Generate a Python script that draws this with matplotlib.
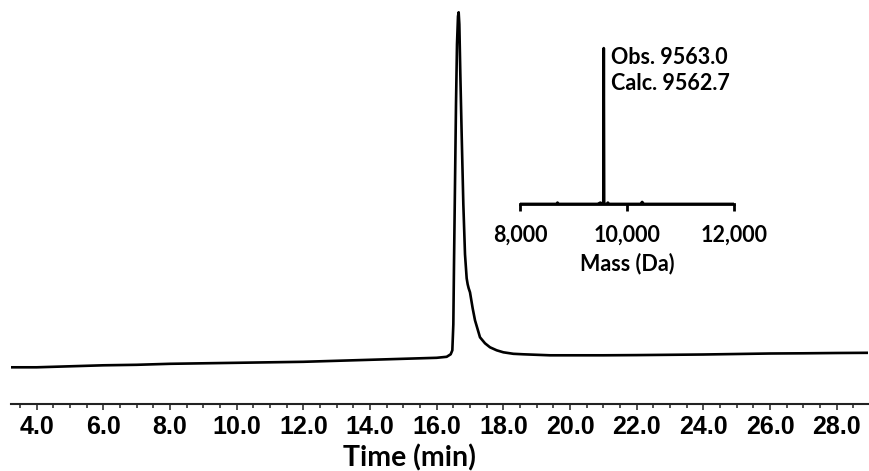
"""HPLC trace with deconvoluted mass spectrum inset.

Output:
  out.png
"""
import matplotlib
matplotlib.use("Agg")
import matplotlib.pyplot as plt
from matplotlib.ticker import MultipleLocator, FormatStrFormatter

# chromatogram: retention time (min) vs absorbance (arb.)
time_min = [3.2, 4.0, 5.0, 6.0, 7.0, 8.0, 9.0, 10.0, 11.0, 12.0, 13.0, 14.0,
            15.0, 16.0, 16.3, 16.42, 16.47, 16.50, 16.52, 16.55, 16.58, 16.61,
            16.64, 16.66, 16.68, 16.71, 16.75, 16.80, 16.85, 16.90, 16.93,
            16.96, 17.00, 17.08, 17.15, 17.30, 17.45, 17.60, 17.80, 18.00,
            18.30, 18.60, 19.40, 20.0, 21.0, 22.0, 23.0, 24.0, 25.0, 26.0,
            27.0, 28.0, 29.0]
absorbance = [37, 37, 38, 39, 39.5, 40.5, 41, 41.5, 42, 42.5, 43.5, 44.5,
              45.5, 46.5, 47.5, 50, 54, 80, 140, 220, 300, 360,
              388, 392, 380, 330, 270, 200, 150, 126, 120,
              116, 112, 96, 84, 67, 61, 57, 54, 52,
              50.5, 50, 49, 49, 49, 49.2, 49.5, 49.8, 50.3, 50.8,
              51, 51.3, 51.5]

# deconvoluted mass spectrum (inset)
mass_da = [8000, 8680, 8700, 8720, 9450, 9500, 9540, 9556, 9563, 9570,
           9620, 9640, 9660, 10250, 10280, 10310, 12000]
rel_int = [0, 0, 0.8, 0, 0, 0.8, 0, 0, 95, 0,
           0, 0.8, 0, 0, 1.2, 0, 0]
mass_ticks = [8000, 10000, 12000]
obs_mass = 9563.0
calc_mass = 9562.7

# tick labels of the main axis are Arial-like bold
plt.rcParams["font.family"] = ["Liberation Sans", "DejaVu Sans"]
plt.rcParams["font.weight"] = "bold"
plt.rcParams["font.size"] = 18

W, H = 870, 471
fig = plt.figure(figsize=(W / 100, H / 100), dpi=100)

# main chromatogram axes, only the bottom spine is shown
ax = fig.add_axes([11 / W, (H - 404.3) / H, 857 / W, 404.3 / H])
ax.plot(time_min, absorbance, color="black", lw=1.9, solid_joinstyle="round")
ax.set_xlim(3.23, 28.94)
ax.set_ylim(0, 404.3)
for side in ("top", "left", "right"):
    ax.spines[side].set_visible(False)
ax.spines["bottom"].set_linewidth(1.5)
ax.spines["bottom"].set_color("#222222")
ax.set_yticks([])
ax.xaxis.set_major_locator(MultipleLocator(2))
ax.xaxis.set_minor_locator(MultipleLocator(0.5))
ax.xaxis.set_major_formatter(FormatStrFormatter("%.1f"))
ax.tick_params(axis="x", which="major", length=4.5, width=1.1, pad=3.5,
               color="#222222", labelsize=18)
ax.tick_params(axis="x", which="minor", length=3, width=1.1, color="#222222")
ax.set_xlabel("Time (min)", fontfamily="Lato", fontweight="bold",
              fontsize=20.5, va="center")
ax.xaxis.set_label_coords((409 - 11) / 857, -(458 - 404.3) / 404.3)

# inset: mass spectrum
ins = fig.add_axes([520 / W, (H - 204) / H, 214.3 / W, 164 / H])
ins.plot(mass_da, rel_int, color="black", lw=2)
ins.set_xlim(8000, 12000)
ins.set_ylim(0, 100)
for side in ("top", "left", "right"):
    ins.spines[side].set_visible(False)
ins.spines["bottom"].set_linewidth(2)
ins.patch.set_alpha(0)
ins.set_yticks([])
ins.set_xticks(mass_ticks)
ins.set_xticklabels([f"{m:,}" for m in mass_ticks], fontfamily="Lato",
                    fontweight="bold", fontsize=15.5)
ins.tick_params(axis="x", length=5, width=2, pad=10)
ins.set_xlabel("Mass (Da)", fontfamily="Lato", fontweight="bold",
               fontsize=15.5, labelpad=5)
ins.text(9693, 96, f"Obs. {obs_mass:.1f}\nCalc. {calc_mass:.1f}",
         fontfamily="Lato", fontweight="bold", fontsize=15.5, va="top",
         ha="left", linespacing=1.3)

fig.savefig("out.png", dpi=100)
